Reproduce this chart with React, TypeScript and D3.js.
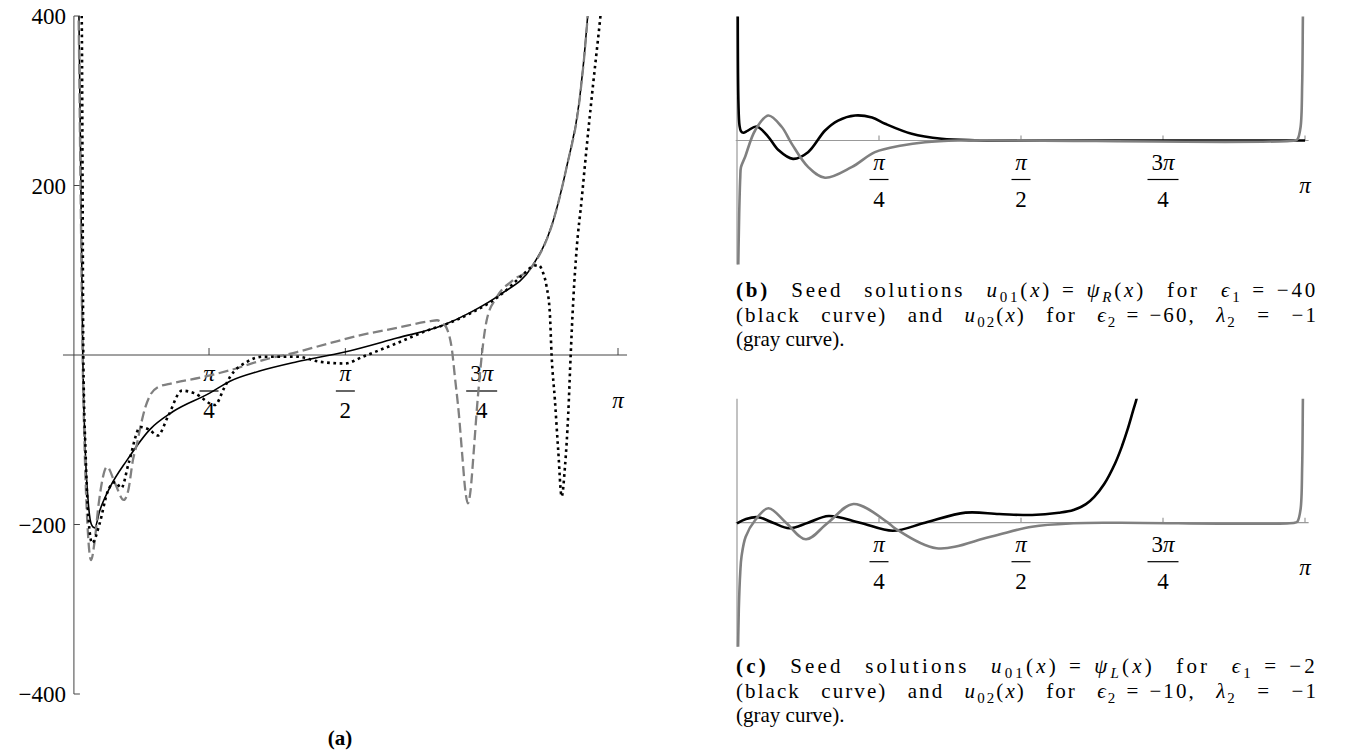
import React, { useLayoutEffect, useRef, useState } from "react";
import * as d3 from "d3";

const PI = Math.PI;

// ---------- Panel (a) data: [x (rad), value] ----------
const A_SOLID: [number, number][] = [
  [0.03, 480], [0.036, 400], [0.047, 200], [0.058, 0], [0.072, -110], [0.09, -175], [0.108, -200],
  [0.126, -204], [0.157, -183], [0.215, -156], [0.313, -124], [0.444, -88], [0.576, -67],
  [0.789, -45], [0.906, -31], [1.077, -19], [1.292, -8], [1.568, 3.5], [1.868, 20], [2.133, 35],
  [2.289, 50], [2.46, 71], [2.645, 104], [2.765, 156], [2.846, 222], [2.92, 301], [2.967, 400],
  [2.984, 450],
];
const A_DASHED: [number, number][] = [
  [0.028, 480], [0.034, 400], [0.045, 200], [0.057, 0], [0.07, -120], [0.085, -200], [0.106, -242],
  [0.125, -222], [0.15, -175], [0.198, -132], [0.245, -152], [0.294, -171], [0.32, -160],
  [0.347, -124], [0.37, -105], [0.39, -85], [0.418, -62], [0.45, -46], [0.49, -38], [0.559, -34],
  [0.751, -26], [0.906, -18], [1.096, -6], [1.292, 3.5], [1.482, 14], [1.672, 24], [1.868, 32],
  [2.058, 40], [2.099, 41], [2.133, 37], [2.156, 31], [2.185, 6], [2.202, -26], [2.225, -70],
  [2.245, -120], [2.262, -160], [2.277, -175], [2.292, -160], [2.31, -115], [2.33, -60],
  [2.345, -25], [2.357, 0], [2.385, 41], [2.442, 68], [2.535, 88], [2.645, 104], [2.765, 156],
  [2.846, 222], [2.92, 301], [2.967, 400], [2.984, 450],
];
const A_DOTTED: [number, number][] = [
  [0.048, 430], [0.052, 400], [0.057, 200], [0.061, 0], [0.075, -120], [0.09, -190], [0.112, -222],
  [0.155, -199], [0.2, -162], [0.245, -150], [0.28, -157], [0.322, -128], [0.39, -85], [0.44, -88],
  [0.49, -95], [0.55, -72], [0.63, -42], [0.7, -45], [0.82, -59], [0.87, -40], [0.906, -26],
  [1.004, -8], [1.096, -2], [1.292, -2], [1.424, -8], [1.568, -10], [1.672, -2], [1.868, 14],
  [2.058, 30], [2.133, 35], [2.289, 49], [2.46, 70], [2.6, 96], [2.645, 104], [2.682, 106],
  [2.71, 97], [2.73, 81], [2.749, 49], [2.759, 0], [2.778, -53], [2.797, -112], [2.817, -167],
  [2.836, -132], [2.855, -69], [2.869, 0], [2.884, 65], [2.903, 124], [2.932, 183], [2.96, 243],
  [2.999, 321], [3.037, 393], [3.055, 430],
];
const A_Y_TICKS = [400, 200, -200, -400];
const A_Y_LABELS = ["400", "200", "\u2212200", "\u2212400"];

// ---------- Panel (b) data ----------
const B_BLACK: [number, number][] = [
  [0.004, 12], [0.008, 3], [0.014, 1.2], [0.022, 0.75], [0.035, 0.63], [0.06, 0.8], [0.109, 1.13],
  [0.173, 0.3], [0.229, -0.77], [0.31, -1.48], [0.393, -0.94], [0.487, 0.81], [0.559, 1.61],
  [0.653, 2.02], [0.747, 1.85], [0.819, 1.35], [0.966, 0.54], [1.132, 0.14], [1.316, 0.02],
  [1.6, 0], [3.142, 0],
];
const B_GRAY: [number, number][] = [
  [0.005, -12], [0.012, -6], [0.018, -3], [0.022, -2.15], [0.044, -1.35], [0.1, 0.81],
  [0.173, 2.02], [0.247, 1.11], [0.303, -0.27], [0.394, -2.15], [0.487, -3.0], [0.634, -2.15],
  [0.763, -0.94], [0.911, -0.4], [1.04, -0.14], [1.222, 0], [3.085, 0], [3.1, 0.1], [3.117, 1.07],
  [3.126, 4.6], [3.13, 10], [3.132, 12],
];

// ---------- Panel (c) data ----------
const C_BLACK: [number, number][] = [
  [0.0, -0.05], [0.05, 0.3], [0.117, 0.44], [0.199, 0], [0.289, -0.45], [0.393, 0], [0.507, 0.54],
  [0.68, 0], [0.862, -0.65], [1.04, 0], [1.264, 0.81], [1.45, 0.7], [1.632, 0.62], [1.78, 0.8],
  [1.861, 1.02], [1.93, 1.5], [1.976, 2.09], [2.03, 3.1], [2.091, 4.78], [2.13, 6.2],
  [2.159, 7.46], [2.19, 9], [2.212, 10.1], [2.23, 11.5],
];
const C_GRAY: [number, number][] = [
  [0.004, -12], [0.01, -7], [0.018, -4], [0.025, -2.74], [0.048, -1.13], [0.1, 0.2], [0.174, 1.16],
  [0.271, 0], [0.381, -1.34], [0.503, 0], [0.644, 1.51], [0.835, 0], [0.874, -0.45], [1.103, -2.06],
  [1.402, -1.13], [1.632, -0.32], [1.861, -0.05], [2.1, 0], [3.085, 0], [3.1, 0.1], [3.117, 1.07],
  [3.126, 4.6], [3.13, 10], [3.132, 12],
];

const X_TICKS = [PI / 4, PI / 2, (3 * PI) / 4, PI];
const X_NUMS = ["\u03c0", "\u03c0", "3\u03c0", "\u03c0"];
const X_DENS = ["4", "2", "4", ""];

type Seg = { t: string; it?: boolean; b?: boolean; sub?: boolean };
const EQ = "\u2004=\u2004";
const CAP_B: Seg[][] = [
  [
    { t: "(b)", b: true }, { t: " Seed solutions " }, { t: "u", it: true }, { t: "01", sub: true },
    { t: "(" }, { t: "x", it: true }, { t: ")" + EQ }, { t: "\u03c8", it: true }, { t: "R", it: true, sub: true },
    { t: "(" }, { t: "x", it: true }, { t: ") for " }, { t: "\u03f5", it: true }, { t: "1", sub: true },
    { t: EQ + "\u221240" },
  ],
  [
    { t: "(black curve) and " }, { t: "u", it: true }, { t: "02", sub: true }, { t: "(" },
    { t: "x", it: true }, { t: ") for " }, { t: "\u03f5", it: true }, { t: "2", sub: true },
    { t: EQ + "\u221260, " }, { t: "\u03bb", it: true }, { t: "2", sub: true }, { t: " = \u22121" },
  ],
  [{ t: "(gray curve)." }],
];
const CAP_C: Seg[][] = [
  [
    { t: "(c)", b: true }, { t: " Seed solutions " }, { t: "u", it: true }, { t: "01", sub: true },
    { t: "(" }, { t: "x", it: true }, { t: ")" + EQ }, { t: "\u03c8", it: true }, { t: "L", it: true, sub: true },
    { t: "(" }, { t: "x", it: true }, { t: ") for " }, { t: "\u03f5", it: true }, { t: "1", sub: true },
    { t: EQ + "\u22122" },
  ],
  [
    { t: "(black curve) and " }, { t: "u", it: true }, { t: "02", sub: true }, { t: "(" },
    { t: "x", it: true }, { t: ") for " }, { t: "\u03f5", it: true }, { t: "2", sub: true },
    { t: EQ + "\u221210, " }, { t: "\u03bb", it: true }, { t: "2", sub: true }, { t: " = \u22121" },
  ],
  [{ t: "(gray curve)." }],
];

const FONT = "'Liberation Serif', 'DejaVu Serif', serif";
const CAP_FS = 21;
const SUB_FS = 15;

function CaptionLine({ segs, x, y, width }: { segs: Seg[]; x: number; y: number; width?: number }) {
  const ref = useRef<SVGTextElement>(null);
  const [sp, setSp] = useState({ ws: 0, ls: 0 });
  useLayoutEffect(() => {
    if (!width || !ref.current) return;
    const natural = ref.current.getComputedTextLength();
    const txt = ref.current.textContent || "";
    const spaces = (txt.match(/ /g) || []).length;
    const chars = txt.length;
    const extra = Math.max(0, width - natural);
    const ws = Math.min(extra / Math.max(spaces, 1), 13);
    const ls = (extra - ws * spaces) / chars;
    setSp({ ws, ls });
  }, [width]);
  let inSub = false;
  return (
    <text ref={ref} x={x} y={y} fontSize={CAP_FS} fontFamily={FONT} fill="#000"
      style={{ wordSpacing: sp.ws + "px", letterSpacing: sp.ls + "px", whiteSpace: "pre" }}>
      {segs.map((s, i) => {
        let dy = 0;
        if (s.sub && !inSub) { dy = 5; inSub = true; }
        else if (!s.sub && inSub) { dy = -5; inSub = false; }
        return (
          <tspan key={i} dy={dy || undefined} fontStyle={s.it ? "italic" : "normal"}
            fontWeight={s.b ? "bold" : "normal"} fontSize={s.sub ? SUB_FS : CAP_FS}>
            {s.t}
          </tspan>
        );
      })}
    </text>
  );
}

function Caption({ lines, x, y, width }: { lines: Seg[][]; x: number; y: number; width: number }) {
  return (
    <g>
      {lines.map((segs, i) => (
        <CaptionLine key={i} segs={segs} x={x} y={y + i * 24.5} width={i < lines.length - 1 ? width : undefined} />
      ))}
    </g>
  );
}

function FracLabels({ xs, axisY, o }: { xs: d3.ScaleLinear<number, number>; axisY: number; o: { num: number; bar: number; den: number; pi: number } }) {
  return (
    <g fontFamily={FONT} fontSize={23} fill="#000" textAnchor="middle">
      {X_TICKS.map((t, i) => {
        const cx = xs(t);
        if (!X_DENS[i]) {
          return <text key={i} x={cx} y={axisY + o.pi} fontStyle="italic">{X_NUMS[i]}</text>;
        }
        const w = X_NUMS[i].length > 1 ? 31 : 19;
        return (
          <g key={i}>
            <text x={cx} y={axisY + o.num}>
              {X_NUMS[i].length > 1 ? <><tspan>3</tspan><tspan fontStyle="italic">{"\u03c0"}</tspan></> : <tspan fontStyle="italic">{X_NUMS[i]}</tspan>}
            </text>
            <line x1={cx - w / 2} x2={cx + w / 2} y1={axisY + o.bar} y2={axisY + o.bar} stroke="#000" strokeWidth={1.2} />
            <text x={cx} y={axisY + o.den}>{X_DENS[i]}</text>
          </g>
        );
      })}
    </g>
  );
}

export default function App() {
  // Panel (a)
  const xA = d3.scaleLinear().domain([0, PI]).range([72.7, 618]);
  const yA = d3.scaleLinear().domain([-400, 400]).range([694, 16]);
  const lineA = d3.line<[number, number]>().x((d) => xA(d[0])).y((d) => yA(d[1])).curve(d3.curveMonotoneX);
  const a0 = yA(0);
  const aAxisX = xA(0.007);

  // Panels (b), (c)
  const xR = d3.scaleLinear().domain([0, PI]).range([737, 1305]);
  const yB = d3.scaleLinear().domain([-10, 10]).range([264.5, 16.5]);
  const yC = d3.scaleLinear().domain([-10, 10]).range([646.7, 398.7]);
  const lineB = d3.line<[number, number]>().x((d) => xR(d[0])).y((d) => yB(d[1])).curve(d3.curveCatmullRom.alpha(0.5));
  const lineC = d3.line<[number, number]>().x((d) => xR(d[0])).y((d) => yC(d[1])).curve(d3.curveCatmullRom.alpha(0.5));

  const rightPanel = (ys: d3.ScaleLinear<number, number>, id: string, black: [number, number][], gray: [number, number][], lineFn: any) => {
    const ax = ys(0);
    return (
      <g>
        <defs>
          <clipPath id={id}>
            <rect x={xR(-0.03)} y={ys(10)} width={xR(PI + 0.03) - xR(-0.03)} height={ys(-10) - ys(10)} />
          </clipPath>
        </defs>
        <line x1={xR(-0.007)} x2={xR(PI + 0.02)} y1={ax} y2={ax} stroke="#999" strokeWidth={1.2} />
        <line x1={xR(0)} x2={xR(0)} y1={ys(10)} y2={ys(-10)} stroke="#999" strokeWidth={1.2} />
        {X_TICKS.map((t, i) => (
          <line key={i} x1={xR(t)} x2={xR(t)} y1={ax} y2={ax - 5} stroke="#999" strokeWidth={1.2} />
        ))}
        <FracLabels xs={xR} axisY={ax} o={{ num: 29.5, bar: 39, den: 66.5, pi: 52.5 }} />
        <g clipPath={`url(#${id})`} fill="none" strokeLinejoin="round">
          <path d={lineFn(black)} stroke="#000" strokeWidth={2.6} />
          <path d={lineFn(gray)} stroke="#808080" strokeWidth={2.6} />
        </g>
      </g>
    );
  };

  return (
    <svg width={1352} height={755} style={{ position: "absolute", left: 0, top: 0, background: "#fff" }}>
      <defs>
        <clipPath id="clipA">
          <rect x={xA(-0.06)} y={yA(400)} width={xA(PI + 0.06) - xA(-0.06)} height={yA(-400) - yA(400)} />
        </clipPath>
      </defs>
      {/* Panel (a) axes */}
      <line x1={xA(-0.056)} x2={xA(PI + 0.052)} y1={a0} y2={a0} stroke="#444" strokeWidth={1} />
      <line x1={aAxisX} x2={aAxisX} y1={yA(400)} y2={yA(-400)} stroke="#444" strokeWidth={1} />
      {A_Y_TICKS.map((v, i) => (
        <g key={i}>
          <line x1={aAxisX} x2={aAxisX + 6} y1={yA(v)} y2={yA(v)} stroke="#444" strokeWidth={1} />
          <text x={aAxisX - 8} y={yA(v) + 8} textAnchor="end" fontFamily={FONT} fontSize={23} fill="#000">
            {A_Y_LABELS[i]}
          </text>
        </g>
      ))}
      {X_TICKS.map((t, i) => (
        <line key={i} x1={xA(t)} x2={xA(t)} y1={a0} y2={a0 - 7} stroke="#444" strokeWidth={1} />
      ))}
      <FracLabels xs={xA} axisY={a0} o={{ num: 25.5, bar: 36, den: 63, pi: 53 }} />
      <g clipPath="url(#clipA)" fill="none">
        <path d={lineA(A_SOLID) || ""} stroke="#000" strokeWidth={1.6} />
        <path d={lineA(A_DASHED) || ""} stroke="#808080" strokeWidth={2.3} strokeDasharray="10,4.5" />
        <path d={lineA(A_DOTTED) || ""} stroke="#000" strokeWidth={2.6} strokeDasharray="2.7,3.6" />
      </g>
      <text x={340} y={745} textAnchor="middle" fontFamily={FONT} fontSize={21} fontWeight="bold">(a)</text>

      {/* Panel (b) */}
      {rightPanel(yB, "clipB", B_BLACK, B_GRAY, lineB)}
      <Caption lines={CAP_B} x={736} y={297} width={582} />

      {/* Panel (c) */}
      {rightPanel(yC, "clipC", C_BLACK, C_GRAY, lineC)}
      <Caption lines={CAP_C} x={736} y={673} width={582} />
    </svg>
  );
}
